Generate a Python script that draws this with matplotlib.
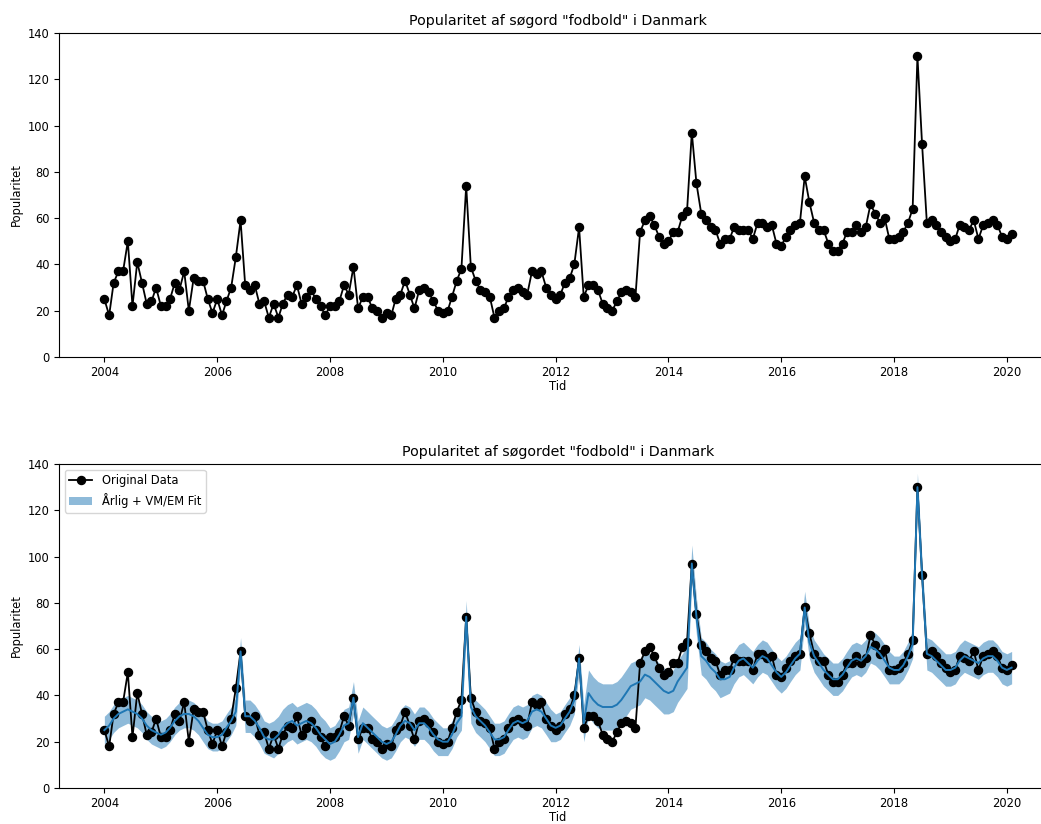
import numpy as np
import pandas as pd
import matplotlib
matplotlib.use("Agg")
import matplotlib.pyplot as plt

# ---- data (monthly, Jan 2004 - Feb 2020) ----
start_month = "2004-01-01"

popularity = [
    25, 18, 32, 37, 37, 50, 22, 41, 32, 23, 24, 30,   # 2004
    22, 22, 25, 32, 29, 37, 20, 34, 33, 33, 25, 19,   # 2005
    25, 18, 24, 30, 43, 59, 31, 29, 31, 23, 24, 17,   # 2006
    23, 17, 23, 27, 26, 31, 23, 26, 29, 25, 22, 18,   # 2007
    22, 22, 24, 31, 27, 39, 21, 26, 26, 21, 20, 17,   # 2008
    19, 18, 25, 27, 33, 27, 21, 29, 30, 28, 24, 20,   # 2009
    19, 20, 26, 33, 38, 74, 39, 33, 29, 28, 26, 17,   # 2010
    20, 21, 26, 29, 30, 28, 27, 37, 36, 37, 30, 27,   # 2011
    25, 27, 32, 34, 40, 56, 26, 31, 31, 29, 23, 21,   # 2012
    20, 24, 28, 29, 28, 26, 54, 59, 61, 57, 52, 49,   # 2013
    50, 54, 54, 61, 63, 97, 75, 62, 59, 56, 55, 49,   # 2014
    51, 51, 56, 55, 55, 55, 51, 58, 58, 56, 57, 49,   # 2015
    48, 52, 55, 57, 58, 78, 67, 58, 55, 55, 49, 46,   # 2016
    46, 49, 54, 54, 57, 54, 56, 66, 62, 58, 60, 51,   # 2017
    51, 52, 54, 58, 64, 130, 92, 58, 59, 57, 54, 52,  # 2018
    50, 51, 57, 56, 55, 59, 51, 57, 58, 59, 57, 52,   # 2019
    51, 53,                                           # 2020
]

fit_mean = [
    25, 27, 30, 32, 33, 34, 33, 32, 30, 27, 25, 24,   # 2004
    23, 24, 26, 29, 31, 32, 32, 31, 29, 26, 23, 22,   # 2005
    22, 23, 26, 29, 33, 59, 31, 31, 29, 26, 22, 21,   # 2006
    21, 23, 26, 28, 29, 27, 28, 29, 28, 26, 23, 21,   # 2007
    19, 20, 23, 27, 28, 39, 22, 28, 26, 24, 22, 20,   # 2008
    19, 20, 23, 27, 29, 28, 25, 28, 28, 26, 23, 21,   # 2009
    20, 20, 23, 28, 31, 74, 35, 31, 29, 27, 24, 21,   # 2010
    21, 22, 25, 28, 29, 28, 29, 33, 34, 33, 30, 27,   # 2011
    26, 27, 30, 33, 38, 56, 28, 41, 38, 36, 35, 35,   # 2012
    35, 36, 38, 41, 44, 45, 46, 49, 48, 46, 44, 42,   # 2013
    41, 42, 46, 49, 52, 97, 74, 57, 55, 52, 50, 47,   # 2014
    47, 48, 52, 55, 56, 54, 52, 55, 57, 56, 53, 50,   # 2015
    48, 50, 53, 56, 58, 78, 63, 57, 54, 51, 49, 47,   # 2016
    47, 49, 52, 55, 56, 55, 57, 61, 60, 58, 55, 52,   # 2017
    51, 51, 53, 57, 62, 130, 92, 58, 57, 55, 53, 51,  # 2018
    51, 52, 55, 57, 56, 55, 54, 56, 57, 57, 55, 52,   # 2019
    51, 52,                                           # 2020
]

fit_halfwidth = [
    6, 6, 6, 6, 6, 6, 6, 6, 6, 6, 6, 6,               # 2004
    6, 6, 6, 6, 6, 6, 6, 6, 6, 6, 6, 6,               # 2005
    6, 6, 6, 6, 6, 6, 7, 7, 7, 7, 7, 7,               # 2006
    8, 8, 8, 8, 8, 8, 8, 8, 8, 8, 8, 8,               # 2007
    7, 7, 7, 7, 7, 7, 7, 7, 7, 7, 7, 7,               # 2008
    7, 7, 7, 7, 7, 7, 7, 7, 7, 7, 7, 7,               # 2009
    6, 6, 6, 6, 6, 7, 7, 7, 7, 7, 7, 7,               # 2010
    7, 7, 7, 7, 7, 7, 7, 7, 7, 7, 7, 7,               # 2011
    6, 6, 6, 6, 6, 6, 8, 10, 10, 10, 10, 10,          # 2012
    10, 10, 10, 10, 10, 10, 10, 10, 10, 10, 10, 10,   # 2013
    9, 9, 9, 9, 9, 8, 8, 8, 8, 8, 8, 8,               # 2014
    7, 7, 7, 7, 7, 7, 7, 7, 7, 7, 7, 7,               # 2015
    7, 7, 7, 7, 7, 7, 7, 7, 7, 7, 7, 7,               # 2016
    7, 7, 7, 7, 7, 7, 7, 7, 7, 7, 7, 7,               # 2017
    6, 6, 6, 6, 6, 6, 6, 7, 7, 7, 7, 7,               # 2018
    7, 7, 7, 7, 7, 7, 7, 7, 7, 7, 7, 7,               # 2019
    7, 7,                                             # 2020
]

title_top = 'Popularitet af søgord "fodbold" i Danmark'
title_bottom = 'Popularitet af søgordet "fodbold" i Danmark'
xlabel = "Tid"
ylabel = "Popularitet"
yticks = [0, 20, 40, 60, 80, 100, 120, 140]

# ---- build ----
dates = pd.date_range(start_month, periods=len(popularity), freq="MS")
pop = np.array(popularity, dtype=float)
fm = np.array(fit_mean, dtype=float)
hw = np.array(fit_halfwidth, dtype=float)

W, H = 1041, 824
fig = plt.figure(figsize=(W / 100, H / 100), dpi=100)

left = 59 / W
width = 998 / W
ax1 = fig.add_axes([left, 1 - 357 / H, width, 324 / H])
ax2 = fig.add_axes([left, 1 - 788 / H, width, 324 / H])

fs_tick = 8.3
fs_label = 8.3
fs_title = 10.3

ax1.plot(dates, pop, color="black", marker="o", markersize=5.8, linewidth=1.3)
ax1.set_title(title_top, fontsize=fs_title)

band = ax2.fill_between(dates, fm - hw, fm + hw, color="C0", alpha=0.5,
                        linewidth=0, label="Årlig + VM/EM Fit")
data_line, = ax2.plot(dates, pop, color="black", marker="o", markersize=5.8,
                      linewidth=1.3, label="Original Data")
ax2.plot(dates, fm, color="C0", linewidth=1.4)
ax2.set_title(title_bottom, fontsize=fs_title)
ax2.legend(handles=[data_line, band], loc="upper left", fontsize=fs_tick)

for ax in (ax1, ax2):
    ax.set_ylim(0, 140)
    ax.set_yticks(yticks)
    ax.set_xlabel(xlabel, fontsize=fs_label, labelpad=0.5)
    ax.set_ylabel(ylabel, fontsize=fs_label)
    ax.tick_params(labelsize=fs_tick, pad=3)

fig.savefig("out.png", dpi=100)
